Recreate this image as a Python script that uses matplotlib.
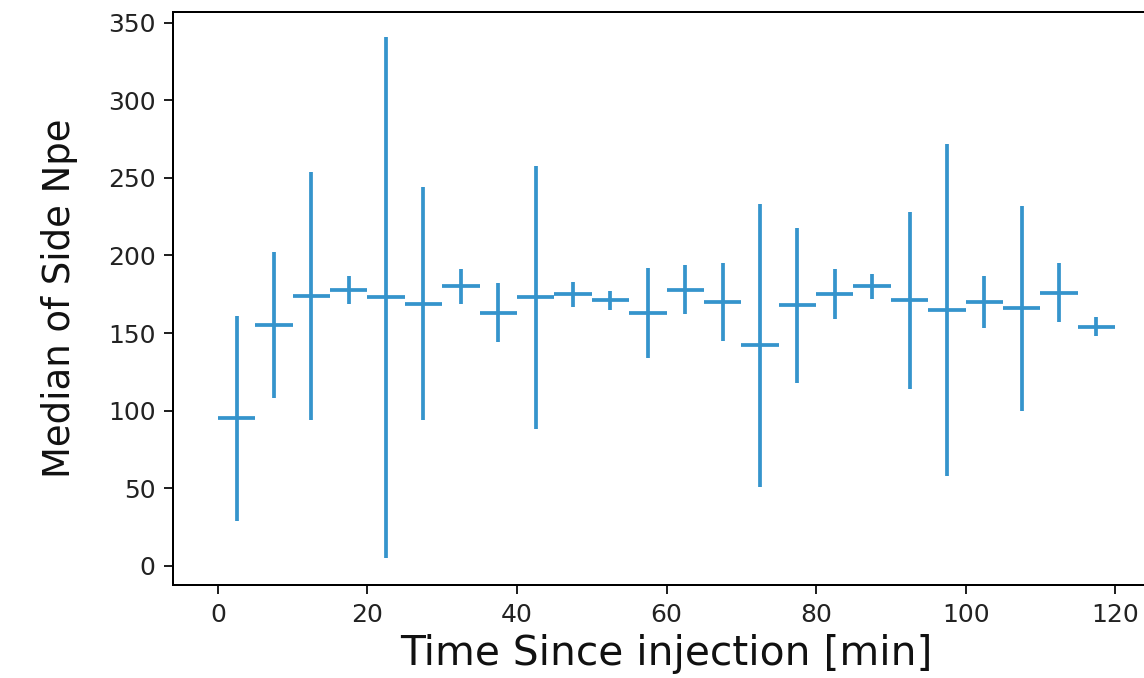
import matplotlib
matplotlib.use("Agg")
import matplotlib.pyplot as plt
import numpy as np

time_min = [2.5, 7.5, 12.5, 17.5, 22.5, 27.5, 32.5, 37.5, 42.5, 47.5, 52.5, 57.5,
            62.5, 67.5, 72.5, 77.5, 82.5, 87.5, 92.5, 97.5, 102.5, 107.5, 112.5, 117.5]
median_npe = [95, 155, 174, 178, 173, 169, 180, 163, 173, 175, 171, 163,
              178, 170, 142, 168, 175, 180, 171, 165, 170, 166, 176, 154]
npe_err = [66, 47, 80, 9, 168, 75, 11, 19, 85, 8, 6, 29,
           16, 25, 91, 50, 16, 8, 57, 107, 17, 66, 19, 6]
time_err = [2.5] * len(time_min)

fig = plt.figure(figsize=(1144 / 180, 678 / 180), dpi=180)
ax = fig.add_axes([173 / 1144, 93 / 678, (1160 - 173) / 1144, (585 - 12) / 678])
ax.errorbar(time_min, median_npe, xerr=time_err, yerr=npe_err, fmt='none',
            ecolor='#3594cc', elinewidth=1.5)
ax.set_xlim(-6, 126)
ax.set_ylim(-12.5, 357)
ax.set_xticks([0, 20, 40, 60, 80, 100, 120])
ax.set_yticks([0, 50, 100, 150, 200, 250, 300, 350])
ax.tick_params(labelsize=10, colors='#222222', labelcolor='#222222')
ax.set_xlabel("Time Since injection [min]", fontsize=16.3, labelpad=3, color='#111111')
ax.set_ylabel("Median of Side Npe", fontsize=14.8, labelpad=12, color='#111111')
fig.savefig("out.png", dpi=180)
